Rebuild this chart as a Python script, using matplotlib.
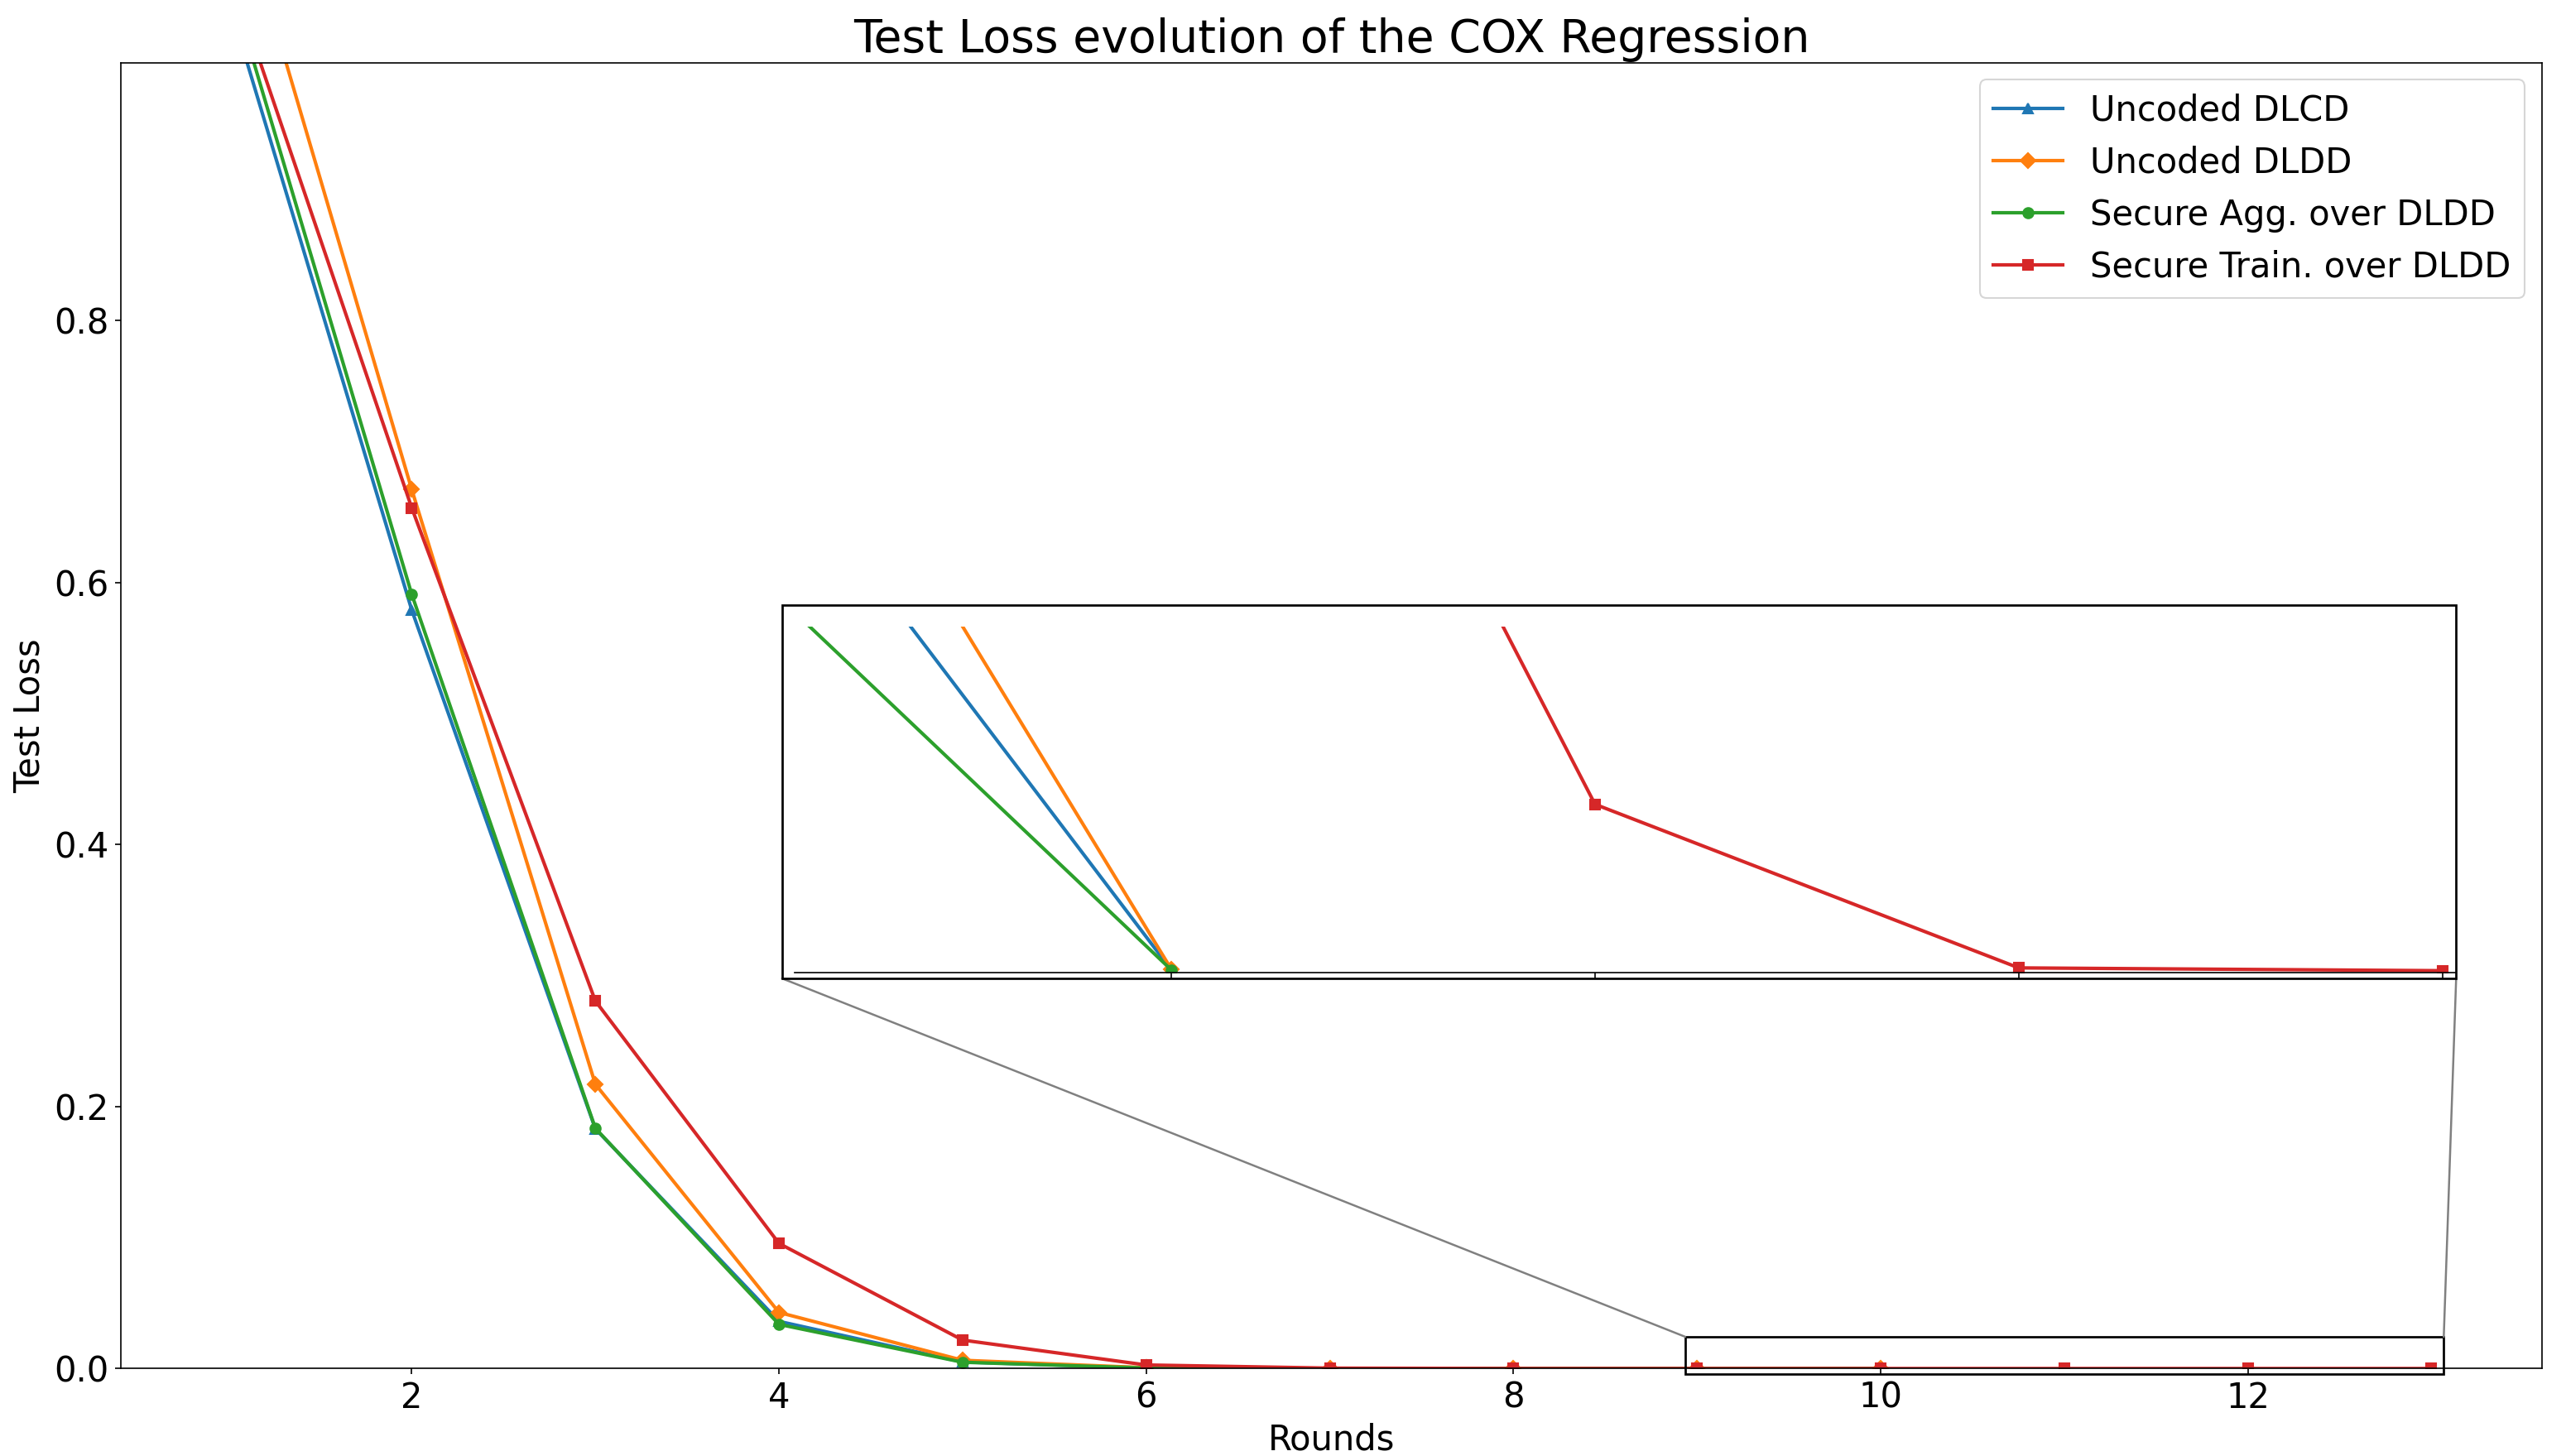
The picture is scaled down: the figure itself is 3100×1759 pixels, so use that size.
import matplotlib
matplotlib.use("Agg")
import matplotlib.pyplot as plt
from matplotlib.patches import Rectangle, ConnectionPatch

# ---------------- data ----------------
rounds_short = [1, 2, 3, 4, 5, 6, 7, 8, 9, 10]
rounds_long = [1, 2, 3, 4, 5, 6, 7, 8, 9, 10, 11, 12, 13]

uncoded_dlcd = [1.045, 0.579, 0.183, 0.036, 0.0050, 4.5e-4, 4.0e-5, 3.5e-6, 1.62e-7, 8.0e-10]
uncoded_dldd = [1.147, 0.671, 0.217, 0.0428, 0.0063, 6.0e-4, 5.0e-5, 4.5e-6, 2.02e-7, 1.0e-9]
secure_agg = [1.063, 0.591, 0.1834, 0.0337, 0.0048, 3.5e-4, 3.0e-5, 2.5e-6, 1.17e-7, 8.0e-10]
secure_train = [1.069, 0.657, 0.2806, 0.0955, 0.0217, 0.0027, 3.0e-4, 2.5e-5, 2.0e-6,
                2.85e-7, 4.86e-8, 1.36e-9, 5.5e-10]

labels = ["Uncoded DLCD", "Uncoded DLDD", "Secure Agg. over DLDD", "Secure Train. over DLDD"]
title = "Test Loss evolution of the COX Regression"
xlabel = "Rounds"
ylabel = "Test Loss"

# ---------------- figure ----------------
W, H, DPI = 3100, 1759, 150
plt.rcParams["font.size"] = 20
plt.rcParams["font.family"] = ["DejaVu Sans"]
plt.rcParams["lines.linewidth"] = 2.0

fig = plt.figure(figsize=(W / DPI, H / DPI), dpi=DPI)


def fx(px):
    return px / W


def fy(py):
    return (H - py) / H


ax = fig.add_axes([fx(146.3), fy(1653.3), fx(3071) - fx(146.3), fy(75.5) - fy(1653.3)])

series = [
    (rounds_short, uncoded_dlcd, "^", "C0"),
    (rounds_short, uncoded_dldd, "D", "C1"),
    (rounds_short, secure_agg, "o", "C2"),
    (rounds_long, secure_train, "s", "C3"),
]

for (xs, ys, mk, c), lab in zip(series, labels):
    ax.plot(xs, ys, marker=mk, color=c, label=lab)

ax.set_xlim(0.417, 13.602)
ax.set_ylim(0, 0.997)
ax.set_title(title, fontsize=26.5)
ax.set_xlabel(xlabel)
ax.set_ylabel(ylabel)
ax.legend(loc="upper right")

# ---------------- inset ----------------
axins = fig.add_axes([fx(960), fy(1175), fx(2967) - fx(960), fy(756.7) - fy(1175)])
for (xs, ys, mk, c) in series:
    axins.plot(xs, ys, marker=mk, color=c)
axins.set_xlim(9.1113, 13.0313)
axins.set_ylim(0, 1e-7)
axins.set_xticks([10, 11, 12, 13])
axins.set_xticklabels([])
axins.set_yticks([])
for s in ("top", "left", "right"):
    axins.spines[s].set_visible(False)
axins.patch.set_alpha(0)

# thick frame around the inset
fx0, fx1 = fx(944.7), fx(2967.3)
fy0, fy1 = fy(1182), fy(730.7)
frame = Rectangle((fx0, fy0), fx1 - fx0, fy1 - fy0, transform=fig.transFigure,
                  fill=False, edgecolor="black", linewidth=1.3, zorder=10)
fig.add_artist(frame)

# zoom rectangle on main axes
rx0, rx1 = 8.936, 13.067
ry0, ry1 = -0.0042, 0.0242
ax.add_patch(Rectangle((rx0, ry0), rx1 - rx0, ry1 - ry0, fill=False,
                       edgecolor="black", linewidth=1.3, clip_on=False, zorder=5))

# connectors
for xa, xb in ((rx0, fx0), (rx1, fx1)):
    con = ConnectionPatch(xyA=(xa, ry1), coordsA=ax.transData,
                          xyB=(xb, fy0), coordsB=fig.transFigure,
                          color="0.5", linewidth=1.2, zorder=4)
    fig.add_artist(con)

fig.savefig("out.png", dpi=DPI)
